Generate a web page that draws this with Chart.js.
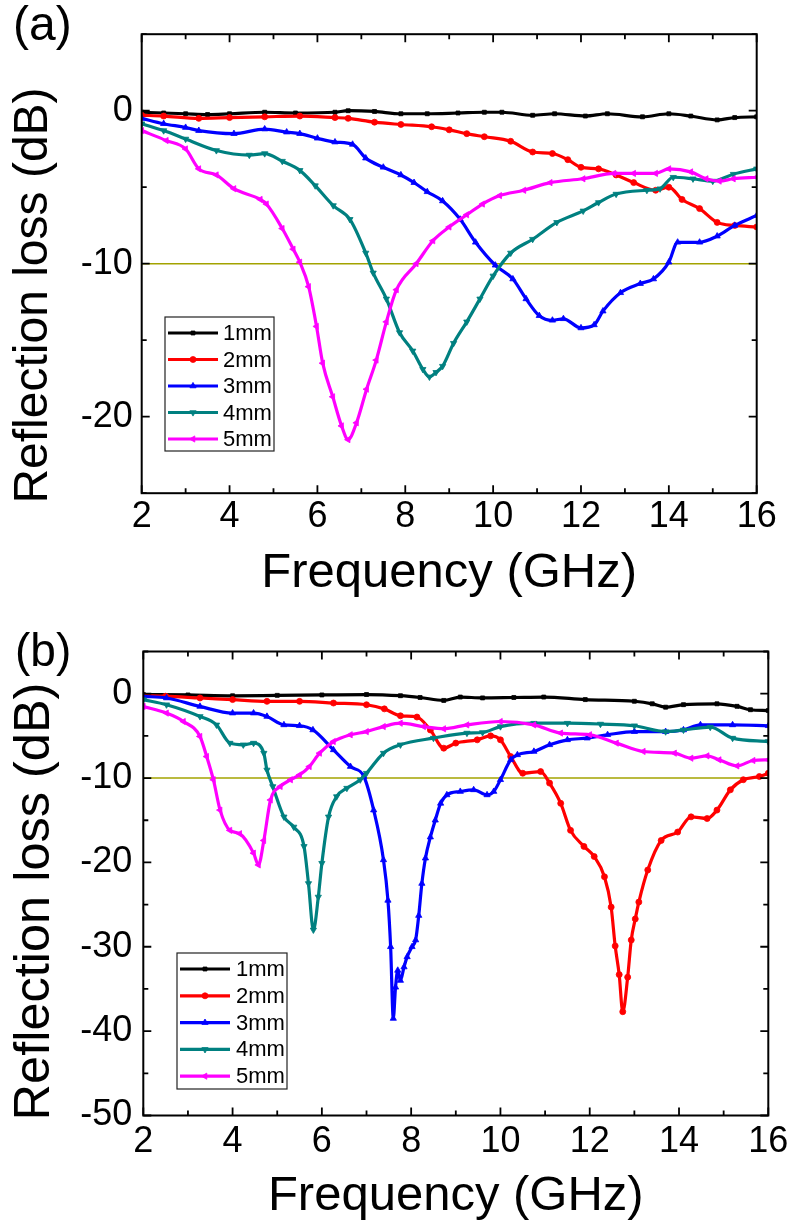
<!DOCTYPE html>
<html>
<head>
<meta charset="utf-8">
<script src="https://cdn.jsdelivr.net/npm/chart.js@4.4.1/dist/chart.umd.min.js"></script>
<style>
  html, body { margin: 0; padding: 0; background: #fff; }
  #wrap { position: relative; width: 795px; height: 1227px; overflow: hidden; }
  .cv { position: absolute; left: 0; }
  .panel { position: absolute; font-family: 'Liberation Sans', Arial, sans-serif; font-size: 48px; line-height: 48px; color: #000; }
</style>
</head>
<body>
<div id="wrap">
  <canvas id="chartA" class="cv" width="795" height="610" style="top:0;width:795px;height:610px"></canvas>
  <canvas id="chartB" class="cv" width="795" height="617" style="top:610px;width:795px;height:617px"></canvas>
  <div class="panel" style="left:13px;top:0px">(a)</div>
  <div class="panel" style="left:15px;top:626px;font-size:46px">(b)</div>
</div>
<script>
// ---------------- data ----------------
const seriesNames = ['1mm', '2mm', '3mm', '4mm', '5mm'];
const xTickLabels = [2, 4, 6, 8, 10, 12, 14, 16];
const yTickLabelsA = [0, -10, -20];
const yTickLabelsB = [0, -10, -20, -30, -40, -50];
const refLevel = -10;

// panel (a)
const freqA1 = [2, 2.5, 3, 3.5, 4, 4.8, 5.5, 6.4, 6.7, 7.3, 7.9, 8.5, 9.2, 9.8, 10.2, 10.9, 11.4, 12.1, 12.6, 13.4, 14.0, 14.5, 15.1, 15.5, 16];
const rlA1   = [-0.1, -0.15, -0.2, -0.25, -0.2, -0.1, -0.15, -0.1, 0.0, -0.05, -0.2, -0.2, -0.15, -0.1, -0.1, -0.3, -0.2, -0.35, -0.2, -0.4, -0.2, -0.35, -0.6, -0.45, -0.4];
const freqA2 = [2, 2.5, 3.3, 4, 4.8, 5.6, 6.4, 6.7, 7.3, 7.9, 8.6, 9.0, 9.4, 9.8, 10.4, 10.9, 11.35, 11.7, 12.0, 12.4, 12.8, 13.2, 13.7, 14.0, 14.3, 14.7, 15.1, 15.5, 16];
const rlA2   = [-0.3, -0.35, -0.5, -0.45, -0.4, -0.35, -0.45, -0.5, -0.75, -0.9, -1.05, -1.25, -1.5, -1.7, -2.0, -2.7, -2.8, -3.2, -3.7, -3.8, -4.2, -4.7, -5.2, -5.0, -5.8, -6.4, -7.3, -7.5, -7.6];
const freqA3 = [2, 2.5, 3.0, 3.3, 4.1, 4.8, 5.3, 5.6, 6.0, 6.4, 6.8, 7.1, 7.5, 7.9, 8.2, 8.5, 8.85, 9.25, 9.6, 10.05, 10.45, 10.75, 11.05, 11.35, 11.6, 12.0, 12.3, 12.5, 12.9, 13.35, 13.65, 14.0, 14.2, 14.7, 15.1, 15.5, 16];
const rlA3   = [-0.5, -0.85, -1.1, -1.3, -1.5, -1.2, -1.4, -1.5, -1.8, -2.05, -2.2, -3.1, -3.7, -4.2, -4.7, -5.3, -5.9, -7.1, -8.6, -10.1, -11.0, -12.3, -13.4, -13.7, -13.6, -14.2, -14.0, -13.1, -11.9, -11.3, -11.0, -9.9, -8.6, -8.6, -8.2, -7.5, -6.85];
const freqA4 = [2, 2.5, 3.0, 3.7, 4.45, 4.8, 5.2, 5.6, 5.95, 6.36, 6.74, 7.1, 7.27, 7.57, 7.87, 8.17, 8.4, 8.55, 8.7, 8.85, 9.1, 9.4, 9.7, 10.0, 10.4, 10.9, 11.45, 12.05, 12.4, 12.8, 13.5, 13.8, 14.1, 14.55, 15.0, 15.47, 16];
const rlA4   = [-0.85, -1.3, -1.85, -2.6, -2.9, -2.8, -3.3, -3.9, -4.9, -6.2, -7.1, -9.3, -10.6, -12.3, -14.5, -15.7, -16.9, -17.4, -17.1, -16.7, -15.2, -13.8, -12.3, -10.8, -9.3, -8.4, -7.3, -6.55, -6.0, -5.45, -5.2, -5.1, -4.35, -4.45, -4.6, -4.15, -3.8];
const freqA5 = [2, 2.56, 3.0, 3.3, 3.7, 4.1, 4.7, 4.84, 5.2, 5.45, 5.6, 5.8, 5.98, 6.12, 6.35, 6.55, 6.7, 6.89, 7.12, 7.34, 7.57, 7.8, 8.25, 8.63, 9.0, 9.4, 9.76, 10.15, 10.7, 11.3, 12.05, 12.75, 13.2, 13.7, 14.0, 14.5, 14.85, 15.15, 15.47, 16];
const rlA5   = [-1.3, -1.95, -2.5, -3.8, -4.2, -5.1, -5.8, -6.1, -7.7, -9.05, -9.9, -11.5, -14.1, -16.5, -18.7, -20.6, -21.5, -20.4, -18.2, -16.3, -13.8, -11.7, -10.0, -8.5, -7.6, -6.8, -6.1, -5.55, -5.2, -4.7, -4.45, -4.1, -4.1, -4.1, -3.8, -4.0, -4.45, -4.6, -4.45, -4.35];

// panel (b)
const freqB1 = [2, 3, 4, 5, 6, 7, 7.76, 8.2, 8.73, 9.1, 9.6, 10.3, 10.97, 11.9, 13.0, 13.4, 13.7, 14.1, 14.85, 15.3, 15.6, 16];
const rlB1   = [-0.1, -0.15, -0.25, -0.2, -0.15, -0.1, -0.24, -0.45, -0.8, -0.4, -0.5, -0.45, -0.4, -0.7, -0.9, -1.2, -1.6, -1.3, -1.2, -1.5, -1.9, -2.0];
const freqB2 = [2, 2.5, 3.27, 4, 4.77, 5.5, 6.26, 7.0, 7.4, 7.76, 8.13, 8.43, 8.73, 9.0, 9.48, 9.78, 10.0, 10.23, 10.5, 10.9, 11.1, 11.35, 11.57, 11.87, 12.1, 12.33, 12.48, 12.57, 12.66, 12.74, 12.85, 12.93, 13.02, 13.1, 13.3, 13.6, 13.97, 14.27, 14.63, 14.85, 15.15, 15.44, 15.8, 16];
const rlB2   = [-0.24, -0.3, -0.51, -0.7, -0.91, -0.91, -1.11, -1.31, -1.8, -2.62, -2.77, -4.3, -6.46, -5.86, -5.47, -5.0, -5.47, -7.45, -9.43, -9.23, -10.6, -13.0, -16.2, -18.1, -19.3, -21.7, -25.3, -29.9, -33.3, -37.7, -33.6, -29.2, -26.7, -24.7, -20.9, -17.4, -16.4, -14.6, -14.8, -13.8, -11.4, -10.2, -9.82, -9.43];
const freqB3 = [2, 2.52, 3.27, 4.0, 4.47, 4.77, 5.15, 5.5, 5.8, 6.26, 6.64, 6.94, 7.16, 7.38, 7.48, 7.54, 7.6, 7.65, 7.7, 7.76, 7.84, 7.91, 8.02, 8.1, 8.17, 8.24, 8.32, 8.43, 8.54, 8.66, 8.8, 9.1, 9.4, 9.7, 9.85, 10.0, 10.23, 10.38, 10.75, 11.1, 11.5, 11.94, 12.4, 13.0, 13.7, 14.1, 14.48, 15.2, 16];
const rlB3   = [-0.32, -0.51, -1.51, -2.3, -2.3, -2.7, -3.7, -3.8, -4.3, -6.66, -8.64, -9.82, -13.8, -19.7, -24.5, -30.0, -38.5, -34.8, -32.8, -34.0, -32.4, -31.2, -30.0, -29.2, -26.3, -22.5, -19.5, -17.0, -15.0, -13.0, -12.0, -11.6, -11.4, -12.0, -11.6, -10.2, -7.84, -7.25, -6.85, -6.06, -5.47, -5.27, -4.87, -4.5, -4.5, -4.3, -3.7, -3.7, -3.8];
const freqB4 = [2, 2.52, 3.27, 3.64, 3.94, 4.24, 4.47, 4.7, 4.77, 4.9, 5.15, 5.37, 5.6, 5.7, 5.81, 5.92, 6.0, 6.15, 6.33, 6.56, 6.86, 7.0, 7.38, 7.76, 8.5, 9.25, 9.6, 10.0, 10.75, 11.5, 12.24, 13.0, 13.7, 14.1, 14.7, 15.2, 16];
const rlB4   = [-0.71, -1.31, -2.7, -3.7, -5.86, -6.06, -5.86, -7.05, -9.04, -11.0, -14.6, -15.8, -18.1, -22.5, -28.0, -24.1, -20.1, -14.6, -12.2, -11.2, -10.2, -9.43, -7.05, -6.06, -5.27, -4.67, -4.6, -3.9, -3.5, -3.5, -3.6, -3.8, -4.5, -4.3, -3.96, -5.27, -5.67];
const freqB5 = [2, 2.52, 2.9, 3.27, 3.42, 3.57, 3.72, 3.94, 4.16, 4.47, 4.58, 4.7, 4.85, 5.07, 5.3, 5.5, 5.72, 5.95, 6.26, 6.64, 7.0, 7.38, 7.76, 8.28, 8.73, 9.25, 10.0, 10.75, 11.35, 12.0, 12.6, 13.2, 13.9, 14.27, 14.63, 14.9, 15.3, 15.66, 16];
const rlB5   = [-1.51, -2.3, -3.3, -5.07, -7.45, -10.2, -13.8, -16.2, -16.6, -18.9, -20.3, -17.4, -12.6, -11.0, -10.2, -9.63, -8.64, -7.05, -5.67, -4.87, -4.5, -3.9, -3.5, -3.9, -4.16, -3.7, -3.3, -3.7, -4.67, -4.87, -5.86, -6.85, -7.05, -7.65, -7.37, -7.84, -8.56, -7.92, -7.84];

// ---------------- styles ----------------
const FONT = "'Liberation Sans', Arial, Helvetica, sans-serif";
const seriesColors = ['#000000', '#ff0000', '#0000ff', '#008080', '#ff00ff'];
const pointStyles = ['rect', 'circle', 'triangle', 'triangle', 'triangle'];
const pointRotations = [0, 0, 0, 180, 270];
const pointRadii = [2.8, 3.0, 3.6, 3.6, 3.6];

Chart.defaults.font.family = FONT;
Chart.defaults.color = '#000';

function toPoints(fx, fy) { return fx.map((x, i) => ({ x: x, y: fy[i] })); }

function buildDatasets(freqs, rls) {
  const ds = freqs.map((f, i) => ({
    label: seriesNames[i],
    data: toPoints(f, rls[i]),
    borderColor: seriesColors[i],
    backgroundColor: seriesColors[i],
    borderWidth: 3.2,
    pointStyle: pointStyles[i],
    pointRotation: pointRotations[i],
    pointRadius: pointRadii[i],
    pointBorderWidth: 0.8,
    pointBorderColor: seriesColors[i],
    pointBackgroundColor: seriesColors[i],
    cubicInterpolationMode: 'monotone',
    order: 5 - i
  }));
  ds.push({
    label: 'ref',
    data: [{ x: 2, y: refLevel }, { x: 16, y: refLevel }],
    borderColor: '#a3a300',
    borderWidth: 1.6,
    pointRadius: 0,
    order: 20
  });
  return ds;
}

// inward ticks + frame
const frameTicks = {
  id: 'frameTicks',
  afterDatasetsDraw(chart) {
    const { ctx, chartArea: { left, right, top, bottom }, scales: { x, y } } = chart;
    ctx.save();
    ctx.strokeStyle = '#000';
    ctx.lineWidth = 1.8;
    ctx.beginPath();
    x.ticks.forEach(t => {
      const px = x.getPixelForValue(t.value);
      const L = (t.value % 2 === 0) ? 8 : 5;
      ctx.moveTo(px, bottom); ctx.lineTo(px, bottom - L);
      ctx.moveTo(px, top); ctx.lineTo(px, top + L);
    });
    y.ticks.forEach(t => {
      const py = y.getPixelForValue(t.value);
      const L = (t.value % 10 === 0) ? 8 : 5;
      ctx.moveTo(left, py); ctx.lineTo(left + L, py);
      ctx.moveTo(right, py); ctx.lineTo(right - L, py);
    });
    ctx.stroke();
    ctx.lineWidth = 2;
    ctx.strokeRect(left, top, right - left, bottom - top);
    ctx.restore();
  }
};

// legend box inside the plot
const innerLegend = {
  id: 'innerLegend',
  afterDraw(chart, args, o) {
    const ctx = chart.ctx;
    ctx.save();
    ctx.strokeStyle = '#222';
    ctx.lineWidth = 1.2;
    ctx.strokeRect(o.x, o.y, o.w, o.h);
    ctx.font = '22px ' + FONT;
    ctx.textBaseline = 'middle';
    ctx.textAlign = 'left';
    seriesNames.forEach((name, i) => {
      const ds = chart.data.datasets[i];
      const yy = o.y + o.first + i * o.step;
      ctx.strokeStyle = ds.borderColor;
      ctx.lineWidth = 3.2;
      ctx.beginPath();
      ctx.moveTo(o.x + 3, yy); ctx.lineTo(o.x + 53, yy);
      ctx.stroke();
      ctx.fillStyle = ds.borderColor;
      if (Chart.helpers && Chart.helpers.drawPoint) {
        ctx.strokeStyle = ds.borderColor;
        ctx.lineWidth = 0.8;
        Chart.helpers.drawPoint(ctx, { pointStyle: ds.pointStyle, rotation: ds.pointRotation, radius: ds.pointRadius, borderWidth: 0.8 }, o.x + 28, yy);
      }
      ctx.fillStyle = '#000';
      ctx.fillText(name, o.x + o.textDx, yy + 1);
    });
    ctx.restore();
  }
};

// rotated y title
const yTitle = {
  id: 'yTitle',
  afterDraw(chart, args, o) {
    const ctx = chart.ctx;
    ctx.save();
    ctx.translate(o.cx, o.cy);
    ctx.rotate(-Math.PI / 2);
    ctx.font = o.size + 'px ' + FONT;
    ctx.fillStyle = '#000';
    ctx.textAlign = 'center';
    ctx.textBaseline = 'middle';
    ctx.fillText(o.text, 0, 0);
    ctx.restore();
  }
};

function makeChart(id, datasets, cfg) {
  return new Chart(document.getElementById(id), {
    type: 'line',
    data: { datasets: datasets },
    plugins: [frameTicks, innerLegend, yTitle],
    options: {
      responsive: false,
      animation: false,
      events: [],
      layout: { padding: { top: cfg.padTop, right: cfg.padRight, left: 0, bottom: 0 } },
      plugins: {
        legend: { display: false },
        tooltip: { enabled: false },
        innerLegend: cfg.legend,
        yTitle: cfg.yTitle
      },
      scales: {
        x: {
          type: 'linear',
          min: 2, max: 16,
          grid: { display: false, drawTicks: false },
          border: { display: false },
          afterBuildTicks(s) {
            const t = [];
            for (let v = 2; v <= 16; v += 1) t.push({ value: v });
            s.ticks = t;
          },
          afterFit(s) { s.height = cfg.xH; s.paddingLeft = 0; s.paddingRight = 0; },
          ticks: {
            font: { size: 36 },
            color: '#000',
            padding: cfg.xTickPad,
            maxRotation: 0,
            autoSkip: false,
            callback: v => xTickLabels.includes(v) ? String(v) : ''
          },
          title: {
            display: true,
            text: 'Frequency (GHz)',
            font: { size: 49 },
            color: '#000',
            padding: { top: 0, bottom: cfg.xTitlePad }
          }
        },
        y: {
          type: 'linear',
          min: cfg.yMin, max: cfg.yMax,
          grid: { display: false, drawTicks: false },
          border: { display: false },
          afterBuildTicks(s) {
            const t = [];
            for (let v = cfg.yMin; v <= cfg.yMax; v += 5) t.push({ value: v });
            s.ticks = t;
          },
          afterFit(s) { s.width = cfg.yW; s.paddingTop = 0; s.paddingBottom = 0; },
          ticks: {
            font: { size: 36 },
            color: '#000',
            padding: cfg.yTickPad,
            autoSkip: false,
            callback: v => cfg.yLabels.includes(v) ? String(v) : ''
          }
        }
      }
    }
  });
}

makeChart('chartA', buildDatasets([freqA1, freqA2, freqA3, freqA4, freqA5], [rlA1, rlA2, rlA3, rlA4, rlA5]), {
  padTop: 34.2, padRight: 38.3, yW: 141.7, xH: 116.8,
  yMin: -25, yMax: 5, yLabels: yTickLabelsA,
  xTickPad: 2, yTickPad: 9, xTitlePad: 7.6,
  legend: { x: 165, y: 317, w: 109, h: 134, first: 16, step: 26.5, textDx: 58 },
  yTitle: { text: 'Reflection loss (dB)', cx: 34, cy: 295.5, size: 48 }
});

makeChart('chartB', buildDatasets([freqB1, freqB2, freqB3, freqB4, freqB5], [rlB1, rlB2, rlB3, rlB4, rlB5]), {
  padTop: 41.5, padRight: 26.7, yW: 143.3, xH: 111.5,
  yMin: -50, yMax: 5, yLabels: yTickLabelsB,
  xTickPad: 5, yTickPad: 11, xTitlePad: 1.6,
  legend: { x: 177, y: 343, w: 110, h: 136, first: 16, step: 26.8, textDx: 59 },
  yTitle: { text: 'Reflection loss (dB)', cx: 35.5, cy: 291.5, size: 50.5 }
});
</script>
</body>
</html>
